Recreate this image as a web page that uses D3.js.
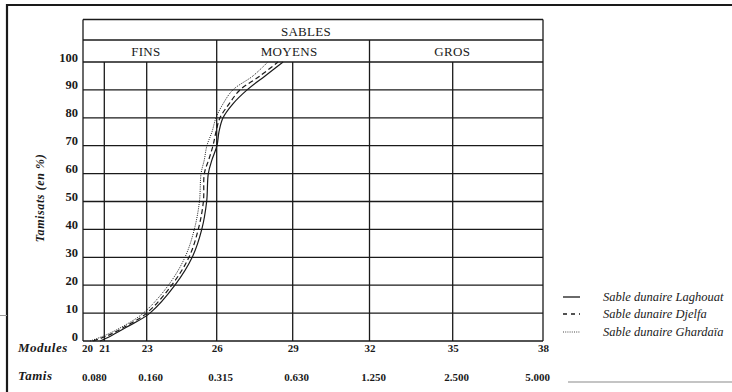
<!DOCTYPE html>
<html>
<head>
<meta charset="utf-8">
<script src="https://cdn.jsdelivr.net/npm/d3@7"></script>
<style>
  html, body { margin: 0; padding: 0; background: #fff; }
  svg { display: block; }
</style>
</head>
<body>
<svg id="chart" width="732" height="392"></svg>
<script>
// ---------- data ----------
const moduleTicks = [20, 21, 23, 26, 29, 32, 35, 38];
const tamisModules = [20, 23, 26, 29, 32, 35, 38];
const tamisLabels = ["0.080", "0.160", "0.315", "0.630", "1.250", "2.500", "5.000"];
const gridModules = [21, 23, 26, 29, 32, 35];
const yTicks = [0, 10, 20, 30, 40, 50, 60, 70, 80, 90, 100];

const classes = ["FINS", "MOYENS", "GROS"];
const classStart = [20, 26, 32];
const classEnd = [26, 32, 38];

const pct = [0, 2, 5, 10, 20, 30, 40, 50, 60, 65, 70, 75, 80, 85, 90, 95, 100];
const laghouat = [20.80, 21.35, 22.06, 23.14, 24.21, 24.95, 25.36, 25.57, 25.64, 25.80, 26.01, 26.09, 26.25, 26.64, 27.20, 27.91, 28.62];
const djelfa   = [20.48, 21.19, 21.94, 23.00, 24.07, 24.81, 25.21, 25.43, 25.47, 25.66, 25.84, 25.97, 26.13, 26.49, 26.92, 27.71, 28.42];
const ghardaia = [20.33, 21.03, 21.82, 22.84, 23.93, 24.64, 25.04, 25.26, 25.33, 25.47, 25.58, 25.80, 25.97, 26.25, 26.64, 27.43, 28.02];

const seriesNames = ["Sable dunaire Laghouat", "Sable dunaire Djelfa", "Sable dunaire Ghardaïa"];
const seriesValues = [laghouat, djelfa, ghardaia];
const seriesDash = [null, "5,3", "1,1.2"];

// ---------- layout ----------
const svg = d3.select("#chart")
  .attr("font-family", "'Liberation Serif', 'DejaVu Serif', 'Times New Roman', serif");
const ink = "#1a1a1a";

// piecewise scale (printed paper grid is not uniform)
const x = d3.scaleLinear().domain(moduleTicks)
  .range([83, 104.3, 146.7, 216.7, 292.7, 369.5, 452.7, 543]);
const y = d3.scaleLinear().domain([0, 100]).range([341, 62]);

const headTop = 19.5, headMid = 40;
const x0 = x(20), x1 = x(38);

// outer frame
svg.append("line").attr("x1", 7).attr("x2", 732).attr("y1", 5).attr("y2", 5)
  .attr("stroke", ink).attr("stroke-width", 2.2);
svg.append("line").attr("x1", 7).attr("x2", 7).attr("y1", 4).attr("y2", 392)
  .attr("stroke", ink).attr("stroke-width", 2.2);
// scanner artefacts
svg.append("line").attr("x1", 0).attr("x2", 7).attr("y1", 315.5).attr("y2", 315.5)
  .attr("stroke", "#999").attr("stroke-width", 1);
svg.append("line").attr("x1", 568).attr("x2", 732).attr("y1", 382).attr("y2", 382)
  .attr("stroke", "#c4c4c4").attr("stroke-width", 2);

const g = svg.append("g").attr("stroke", ink).attr("stroke-width", 1.3).attr("fill", "none");

// horizontal grid lines
g.selectAll("line.h").data(yTicks).join("line").attr("class", "h")
  .attr("x1", x0).attr("x2", x1).attr("y1", d => y(d)).attr("y2", d => y(d));
// header horizontal lines
g.selectAll("line.hh").data([headTop, headMid]).join("line").attr("class", "hh")
  .attr("x1", x0).attr("x2", x1).attr("y1", d => d).attr("y2", d => d);
// outer vertical edges
g.selectAll("line.edge").data([20, 38]).join("line").attr("class", "edge")
  .attr("x1", d => x(d)).attr("x2", d => x(d)).attr("y1", headTop).attr("y2", y(0));
// internal vertical lines
g.selectAll("line.v").data(gridModules).join("line").attr("class", "v")
  .attr("x1", d => x(d)).attr("x2", d => x(d))
  .attr("y1", d => (classStart.includes(d) ? headMid : y(100))).attr("y2", y(0));

const T = (sel) => sel.attr("fill", ink);

// header texts
T(svg.append("text")).attr("x", (x0 + x1) / 2 - 7).attr("y", 35.5)
  .attr("text-anchor", "middle").attr("font-size", 13).attr("letter-spacing", 0.3).text("SABLES");
T(svg.selectAll("text.cls").data(classes).join("text")).attr("class", "cls")
  .attr("x", (d, i) => (x(classStart[i]) + x(classEnd[i])) / 2 - 4).attr("y", 56)
  .attr("text-anchor", "middle").attr("font-size", 13).attr("letter-spacing", 0.3).text(d => d);

// y tick labels
T(svg.selectAll("text.yt").data(yTicks).join("text")).attr("class", "yt")
  .attr("x", 78).attr("y", d => y(d) - 0.5)
  .attr("text-anchor", "end").attr("font-size", 12.5).attr("font-weight", "bold").text(d => d);

// y title
T(svg.append("text")).attr("transform", "translate(44,198) rotate(-90)")
  .attr("text-anchor", "middle").attr("font-size", 12).attr("font-weight", "bold")
  .attr("font-style", "italic").attr("letter-spacing", 0.6).text("Tamisats (en %)");

// module row
T(svg.append("text")).attr("x", 18).attr("y", 352).attr("font-size", 13)
  .attr("font-weight", "bold").attr("font-style", "italic").attr("letter-spacing", 0.5).text("Modules");
T(svg.selectAll("text.mt").data(moduleTicks).join("text")).attr("class", "mt")
  .attr("x", d => d === 20 ? x(d) - 1 : x(d) + 0.5).attr("y", 352)
  .attr("text-anchor", d => d === 20 ? "start" : "middle")
  .attr("font-size", 11).attr("font-weight", "bold").text(d => d);

// tamis row
T(svg.append("text")).attr("x", 18).attr("y", 380).attr("font-size", 13)
  .attr("font-weight", "bold").attr("font-style", "italic").attr("letter-spacing", 0.5).text("Tamis");
T(svg.selectAll("text.tt").data(tamisLabels).join("text")).attr("class", "tt")
  .attr("x", (d, i) => tamisModules[i] === 20 ? x(20) - 1 : (tamisModules[i] === 38 ? x(38) + 7 : x(tamisModules[i]) + 4))
  .attr("y", 381)
  .attr("text-anchor", (d, i) => tamisModules[i] === 20 ? "start" : (tamisModules[i] === 38 ? "end" : "middle"))
  .attr("font-size", 11).attr("font-weight", "bold").text(d => d);

// curves
const line = d3.line().x(d => x(d[0])).y(d => y(d[1])).curve(d3.curveCatmullRom.alpha(0.5));
seriesValues.forEach((vals, i) => {
  const pts = vals.map((v, k) => [v, pct[k]]);
  svg.append("path").attr("d", line(pts)).attr("fill", "none").attr("stroke", ink)
    .attr("stroke-width", i === 2 ? 1 : 1.2)
    .attr("stroke-dasharray", seriesDash[i]);
});

// legend
const legY = [297, 314, 332];
seriesNames.forEach((name, i) => {
  svg.append("line").attr("x1", 563).attr("x2", 580).attr("y1", legY[i]).attr("y2", legY[i])
    .attr("stroke", ink).attr("stroke-width", i === 2 ? 0.8 : 1.3)
    .attr("stroke-dasharray", i === 1 ? "4,4" : seriesDash[i]);
  T(svg.append("text")).attr("x", 603).attr("y", legY[i] + 3.5).attr("font-size", 12.5)
    .attr("font-style", "italic").text(name);
});
</script>
</body>
</html>
